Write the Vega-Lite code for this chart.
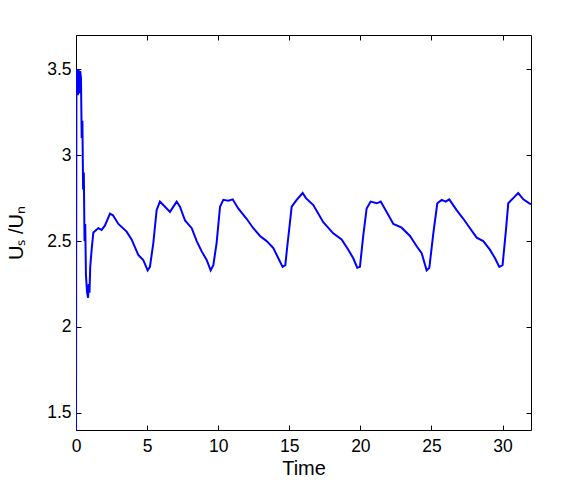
{
  "$schema": "https://vega.github.io/schema/vega-lite/v6.json",
  "width": 455,
  "height": 395,
  "autosize": {"type": "none"},
  "padding": {"left": 76, "top": 35, "right": 53, "bottom": 56},
  "background": "white",
  "config": {
    "view": {"stroke": "black", "strokeWidth": 1},
    "axis": {
      "grid": false,
      "domain": false,
      "labelFlush": false,
      "tickColor": "black",
      "tickSize": -5,
      "labelColor": "black",
      "labelFont": "Liberation Sans",
      "labelFontSize": 17.5,
      "titleFont": "Liberation Sans",
      "titleFontSize": 20,
      "titleFontWeight": "normal",
      "titleColor": "black"
    }
  },
  "data": {
    "values": [
      {"t": 0, "v": 1.4},
      {"t": 0.01, "v": 2.3},
      {"t": 0.03, "v": 3.4},
      {"t": 0.08, "v": 3.5},
      {"t": 0.13, "v": 3.35},
      {"t": 0.18, "v": 3.5},
      {"t": 0.25, "v": 3.36},
      {"t": 0.3, "v": 3.49},
      {"t": 0.35, "v": 3.45},
      {"t": 0.4, "v": 3.1},
      {"t": 0.45, "v": 3.2},
      {"t": 0.5, "v": 2.8},
      {"t": 0.55, "v": 2.9},
      {"t": 0.6, "v": 2.5},
      {"t": 0.65, "v": 2.6},
      {"t": 0.7, "v": 2.3},
      {"t": 0.78, "v": 2.2},
      {"t": 0.85, "v": 2.17},
      {"t": 0.9, "v": 2.25},
      {"t": 0.95, "v": 2.2},
      {"t": 1.0, "v": 2.35},
      {"t": 1.1, "v": 2.45},
      {"t": 1.22, "v": 2.55},
      {"t": 1.57, "v": 2.575},
      {"t": 1.8, "v": 2.565},
      {"t": 2.03, "v": 2.59},
      {"t": 2.39, "v": 2.66},
      {"t": 2.6, "v": 2.65},
      {"t": 2.98, "v": 2.6},
      {"t": 3.56, "v": 2.555},
      {"t": 3.91, "v": 2.51},
      {"t": 4.38, "v": 2.42},
      {"t": 4.73, "v": 2.39},
      {"t": 5.04, "v": 2.33},
      {"t": 5.2, "v": 2.35},
      {"t": 5.44, "v": 2.49},
      {"t": 5.67, "v": 2.68},
      {"t": 5.9, "v": 2.73},
      {"t": 6.14, "v": 2.71},
      {"t": 6.61, "v": 2.67},
      {"t": 7.08, "v": 2.73},
      {"t": 7.31, "v": 2.7},
      {"t": 7.67, "v": 2.62},
      {"t": 8.14, "v": 2.575},
      {"t": 8.49, "v": 2.5},
      {"t": 8.84, "v": 2.44},
      {"t": 9.19, "v": 2.39},
      {"t": 9.47, "v": 2.33},
      {"t": 9.66, "v": 2.36},
      {"t": 9.89, "v": 2.49},
      {"t": 10.13, "v": 2.7},
      {"t": 10.36, "v": 2.74},
      {"t": 10.71, "v": 2.735},
      {"t": 11.02, "v": 2.743},
      {"t": 11.41, "v": 2.69},
      {"t": 12.0, "v": 2.63},
      {"t": 12.47, "v": 2.575},
      {"t": 12.94, "v": 2.53},
      {"t": 13.41, "v": 2.5},
      {"t": 13.88, "v": 2.46},
      {"t": 14.23, "v": 2.4},
      {"t": 14.53, "v": 2.35},
      {"t": 14.72, "v": 2.36},
      {"t": 14.86, "v": 2.47},
      {"t": 15.17, "v": 2.7},
      {"t": 15.52, "v": 2.74},
      {"t": 15.94, "v": 2.78},
      {"t": 16.17, "v": 2.75},
      {"t": 16.69, "v": 2.71},
      {"t": 17.39, "v": 2.61},
      {"t": 18.09, "v": 2.545},
      {"t": 18.68, "v": 2.51},
      {"t": 19.15, "v": 2.45},
      {"t": 19.5, "v": 2.4},
      {"t": 19.78, "v": 2.345},
      {"t": 19.97, "v": 2.35},
      {"t": 20.2, "v": 2.53},
      {"t": 20.44, "v": 2.69},
      {"t": 20.72, "v": 2.73},
      {"t": 21.15, "v": 2.72},
      {"t": 21.43, "v": 2.73},
      {"t": 21.85, "v": 2.67},
      {"t": 22.32, "v": 2.6},
      {"t": 22.9, "v": 2.578},
      {"t": 23.49, "v": 2.53},
      {"t": 23.96, "v": 2.47},
      {"t": 24.31, "v": 2.43},
      {"t": 24.66, "v": 2.33},
      {"t": 24.85, "v": 2.345},
      {"t": 25.13, "v": 2.545},
      {"t": 25.41, "v": 2.72},
      {"t": 25.72, "v": 2.74},
      {"t": 26.0, "v": 2.73},
      {"t": 26.25, "v": 2.743},
      {"t": 26.77, "v": 2.68},
      {"t": 27.24, "v": 2.63},
      {"t": 27.71, "v": 2.575},
      {"t": 28.18, "v": 2.52},
      {"t": 28.64, "v": 2.5},
      {"t": 29.11, "v": 2.45},
      {"t": 29.47, "v": 2.4},
      {"t": 29.77, "v": 2.35},
      {"t": 30.0, "v": 2.36},
      {"t": 30.24, "v": 2.565},
      {"t": 30.4, "v": 2.72},
      {"t": 30.75, "v": 2.75},
      {"t": 31.1, "v": 2.78},
      {"t": 31.46, "v": 2.743},
      {"t": 31.88, "v": 2.72},
      {"t": 32.0, "v": 2.715}
    ]
  },
  "layer": [
    {
      "mark": {"type": "line", "color": "#0000FF", "strokeWidth": 2, "clip": true},
      "encoding": {
        "x": {"field": "t", "type": "quantitative", "scale": {"domain": [0, 32], "nice": false, "zero": false},
              "axis": {"title": "Time", "values": [0, 5, 10, 15, 20, 25, 30], "labelPadding": 12, "titlePadding": 4}},
        "y": {"field": "v", "type": "quantitative", "scale": {"domain": [1.4, 3.7], "nice": false, "zero": false},
              "axis": {"title": "Uₛ /Uₙ", "values": [1.5, 2, 2.5, 3, 3.5], "format": "~g", "labelPadding": 10, "titlePadding": 20}}
      }
    },
    {
      "mark": {"type": "line", "opacity": 0},
      "encoding": {
        "x": {"field": "t", "type": "quantitative", "axis": {"orient": "top", "labels": false, "title": null, "values": [0, 5, 10, 15, 20, 25, 30]}},
        "y": {"field": "v", "type": "quantitative", "axis": {"orient": "right", "labels": false, "title": null, "values": [1.5, 2, 2.5, 3, 3.5]}}
      }
    }
  ],
  "resolve": {"axis": {"x": "independent", "y": "independent"}}
}
